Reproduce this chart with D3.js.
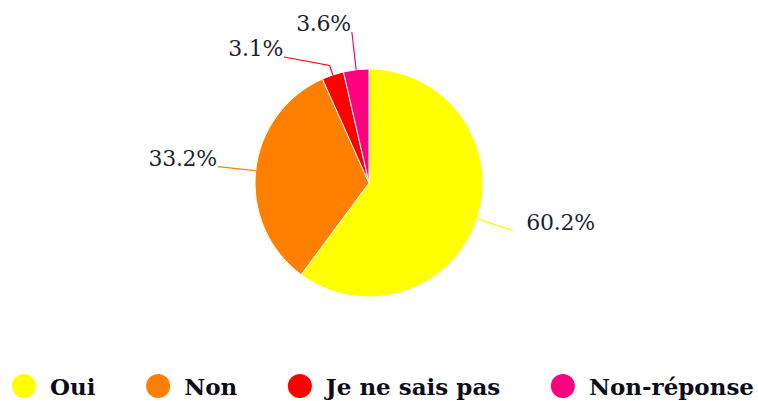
<!DOCTYPE html>
<html>
<head>
<meta charset="utf-8">
<script src="https://cdn.jsdelivr.net/npm/d3@7"></script>
<style>
  html, body { margin: 0; padding: 0; background: #fff; }
  svg { display: block; }
</style>
</head>
<body>
<svg id="chart" width="758" height="401"></svg>
<script>
const categories = ["Oui", "Non", "Je ne sais pas", "Non-réponse"];
const shares = [60.2, 33.2, 3.1, 3.6];
const sliceColors = ["#ffff00", "#ff8000", "#ff0000", "#ff0080"];

const svg = d3.select("#chart");
const width = 758;
const cx = 369;
const cy = 183;
const radius = 114;

const dataset = categories.map((name, i) => ({ name, value: shares[i], color: sliceColors[i] }));

const pie = d3.pie().sort(null).value((d) => d.value);
const arcs = pie(dataset);
const arc = d3.arc().innerRadius(0).outerRadius(radius);

const plot = svg.append("g").attr("transform", `translate(${cx},${cy})`);

plot
  .selectAll("path")
  .data(arcs)
  .enter()
  .append("path")
  .attr("d", arc)
  .attr("fill", (d) => d.data.color)
  .attr("stroke", "#fff")
  .attr("stroke-width", 1);

//Label placement, highcharts style: anchor on a circle, then push overlapping ones
const polar = (angle, r) => [r * Math.sin(angle), -r * Math.cos(angle)];
const labelRadius = 152;
const minGap = 25;
const labels = arcs.map((d) => {
  const mid = (d.startAngle + d.endAngle) / 2;
  const [, y] = polar(mid, labelRadius);
  return { d, mid, y, right: mid < Math.PI };
});
//left side: resolve overlap from top to bottom
const leftLabels = labels.filter((l) => !l.right).sort((a, b) => a.y - b.y);
for (let i = 1; i < leftLabels.length; i++) {
  if (leftLabels[i].y - leftLabels[i - 1].y < minGap) {
    leftLabels[i].y = leftLabels[i - 1].y + minGap;
  }
}
labels.forEach((l) => {
  const dx = Math.sqrt(Math.max(0, labelRadius * labelRadius - l.y * l.y));
  l.x = l.right ? dx : -dx;
  l.edge = polar(l.mid, radius);
  l.elbow = polar(l.mid, radius + 10);
});

const labelGroup = plot.append("g").attr("class", "labels");
labelGroup
  .selectAll("polyline")
  .data(labels)
  .enter()
  .append("polyline")
  .attr("points", (l) => [l.edge, l.elbow, [l.x, l.y]].map((p) => p.join(",")).join(" "))
  .attr("fill", "none")
  .attr("stroke", (l) => l.d.data.color)
  .attr("stroke-width", 1.2);

labelGroup
  .selectAll("text")
  .data(labels)
  .enter()
  .append("text")
  .attr("x", (l) => (l.right ? l.x + 13 : l.x - 1))
  .attr("y", (l) => l.y - 1)
  .attr("text-anchor", (l) => (l.right ? "start" : "end"))
  .attr("font-family", "'DejaVu Serif', Georgia, serif")
  .attr("font-size", 22)
  .attr("letter-spacing", -0.3)
  .attr("fill", "#1f1f33")
  .text((l) => `${l.d.data.value.toFixed(1)}%`);

//Legend
const legend = svg.append("g").attr("class", "legend");
const legendY = 386;
const symbolR = 12;
const legendLeft = 12;
const legendRight = 754;
const items = legend
  .selectAll("g")
  .data(dataset)
  .enter()
  .append("g");
items
  .append("circle")
  .attr("cx", symbolR)
  .attr("cy", legendY)
  .attr("r", symbolR)
  .attr("fill", (d) => d.color);
items
  .append("text")
  .attr("x", symbolR * 2 + 14)
  .attr("y", legendY + 9)
  .attr("font-family", "'DejaVu Serif', Georgia, serif")
  .attr("font-weight", "bold")
  .attr("font-size", 23)
  .attr("fill", "#0d0d1a")
  .text((d) => d.name);

const widths = items.nodes().map((n) => symbolR * 2 + 14 + n.querySelector("text").getComputedTextLength());
const itemGap = (legendRight - legendLeft - d3.sum(widths)) / (widths.length - 1);
let offset = legendLeft;
items.each(function (d, i) {
  d3.select(this).attr("transform", `translate(${offset},0)`);
  offset += widths[i] + itemGap;
});
</script>
</body>
</html>
